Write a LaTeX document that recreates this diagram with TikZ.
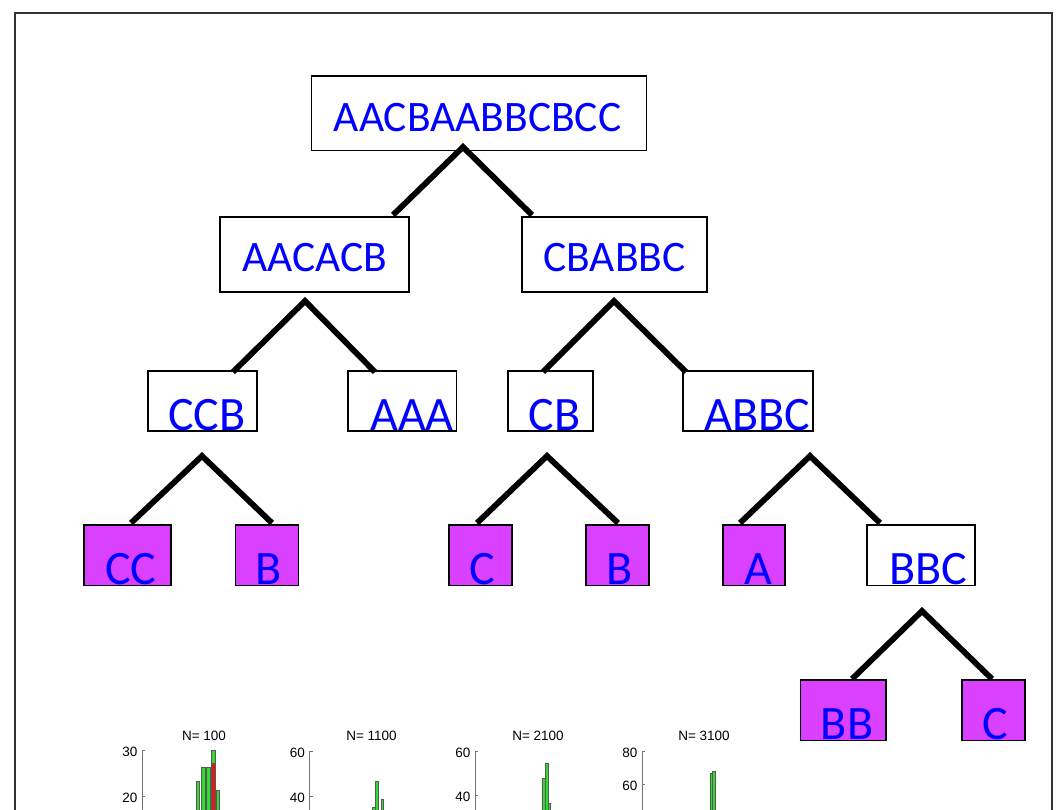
\documentclass[tikz,border=0pt]{standalone}
\usepackage{fontspec}
\setmainfont{Carlito}
\newfontfamily\plotfont{Liberation Sans}
\usepackage{xcolor}
\usepackage{tikz}

\definecolor{leafpink}{RGB}{217,64,255}
\definecolor{bargreen}{RGB}{45,220,45}
\definecolor{barred}{RGB}{220,25,25}

\tikzset{
  split/.style={draw=black, line width=1.5pt, fill=white, inner sep=0pt},
  leaf/.style={split, fill=leafpink},
  seqtop/.style={text=blue, inner sep=0pt, anchor=base, font=\fontsize{43.5}{43.5}\selectfont},
  seqlow/.style={seqtop, font=\fontsize{48}{48}\selectfont},
  branch/.style={line width=5.8pt, line join=miter},
  hbar/.style={fill=bargreen, draw=black!65, line width=0.5pt},
  haxis/.style={draw=black!55, line width=0.8pt},
  hlabel/.style={font=\plotfont\fontsize{13.5}{13.5}\selectfont, inner sep=0pt}
}

\begin{document}
\begin{tikzpicture}[x=1pt, y=-1pt]
    \useasboundingbox (0,0) rectangle (1057,809);
    \clip (0,0) rectangle (1057,809);
    \draw[line width=2pt, black!80] (15,13) rectangle (1051.5,850);

    % boxes
    \node[split, minimum width=335, minimum height=74.5] (root) at (479,113.25) {};
    \node[split, minimum width=189, minimum height=75] (aacacb) at (314.5,254.5) {};
    \node[split, minimum width=185, minimum height=75] (cbabbc) at (614.5,254.5) {};
    \node[split, minimum width=109, minimum height=60] (ccb) at (202.5,401) {};
    \node[split, minimum width=108.5, minimum height=60] (aaa) at (402.25,401) {};
    \node[split, minimum width=85, minimum height=60] (cb) at (550.5,401) {};
    \node[split, minimum width=130, minimum height=60] (abbc) at (748,401) {};
    \node[leaf, minimum width=87, minimum height=60.5] (cc) at (127.5,555.25) {};
    \node[leaf, minimum width=62.6, minimum height=60.5] (b1) at (267,555.25) {};
    \node[leaf, minimum width=63, minimum height=60.5] (c1) at (480.5,555.25) {};
    \node[leaf, minimum width=63, minimum height=60.5] (b2) at (617.5,555.25) {};
    \node[leaf, minimum width=62, minimum height=60.5] (a1) at (754,555.25) {};
    \node[split, minimum width=108, minimum height=60.5] (bbc) at (921,555.25) {};
    \node[leaf, minimum width=85.3, minimum height=60.5] (bb) at (843.35,710.25) {};
    \node[leaf, minimum width=63, minimum height=60.5] (c2) at (993.5,710.25) {};

    % sequences
    \node[seqtop] (root-t) at (477.5,131) {AACBAABBCBCC};
    \node[seqtop] (aacacb-t) at (315,271) {AACACB};
    \node[seqtop] (cbabbc-t) at (614.5,271) {CBABBC};
    \node[seqlow] (ccb-t) at (207,430) {CCB};
    \node[seqlow] (aaa-t) at (412,430) {AAA};
    \node[seqlow] (cb-t) at (554.5,430) {CB};
    \node[seqlow] (abbc-t) at (757.5,430) {ABBC};
    \node[seqlow] (cc-t) at (131,584) {CC};
    \node[seqlow] (b1-t) at (269,584) {B};
    \node[seqlow] (c1-t) at (482,584) {C};
    \node[seqlow] (b2-t) at (619.5,584) {B};
    \node[seqlow] (a1-t) at (758,584) {A};
    \node[seqlow] (bbc-t) at (928.5,584) {BBC};
    \node[seqlow] (bb-t) at (847,739) {BB};
    \node[seqlow] (c2-t) at (995.5,739) {C};

    % splits
    \coordinate (root-v) at (463,147);
    \coordinate (aacacb-v) at (305,301);
    \coordinate (cbabbc-v) at (614,301);
    \coordinate (ccb-v) at (202,456);
    \coordinate (cb-v) at (547,456);
    \coordinate (abbc-v) at (810,456);
    \coordinate (bbc-v) at (922,611);
    \draw[branch] (393,215) -- (root-v) -- (532,215);
    \draw[branch] (233,372) -- (aacacb-v) -- (375,372);
    \draw[branch] (543,372) -- (cbabbc-v) -- (686,372);
    \draw[branch] (131,523) -- (ccb-v) -- (272,523);
    \draw[branch] (477,523) -- (cb-v) -- (618,523);
    \draw[branch] (740,523) -- (abbc-v) -- (880,523);
    \draw[branch] (852,679) -- (bbc-v) -- (992,679);

    % histograms
    \foreach \ax/\ya/\la/\yb/\lb/\tx/\tn in {142/750/30/796/20/204/100,
        309.5/751/60/796/40/371.5/1100, 475/751.5/60/795.5/40/538/2100,
        642/751/80/784/60/704/3100} {
      \draw[haxis] (\ax,\ya) -- (\ax,830);
      \draw[haxis] (\ax,\ya) -- ++(3,0);
      \draw[haxis] (\ax,\yb) -- ++(3,0);
      \node[hlabel, anchor=east] at (\ax-4.5,\ya+1.5) {\la};
      \node[hlabel, anchor=east] at (\ax-4.5,\yb+1.5) {\lb};
      \node[hlabel, anchor=base] at (\tx,740) {N= \tn};
    }
    \foreach \bx/\bw/\bt in {196/3.6/781, 201.2/3.8/767, 206.2/3.8/767,
        211.2/3.8/750, 216.3/3.4/790, 372.7/2.4/807, 375.3/3.4/781,
        381/2.7/799, 542/3.3/778, 545.3/2.7/763, 548/2/803,
        710/2.2/773, 712.3/2.7/771}
      \draw[hbar] (\bx,\bt) rectangle ++(\bw,60);
    \draw[fill=barred, draw=black!65, line width=0.5pt] (211.2,763) rectangle ++(3.8,60);
\end{tikzpicture}
\end{document}
